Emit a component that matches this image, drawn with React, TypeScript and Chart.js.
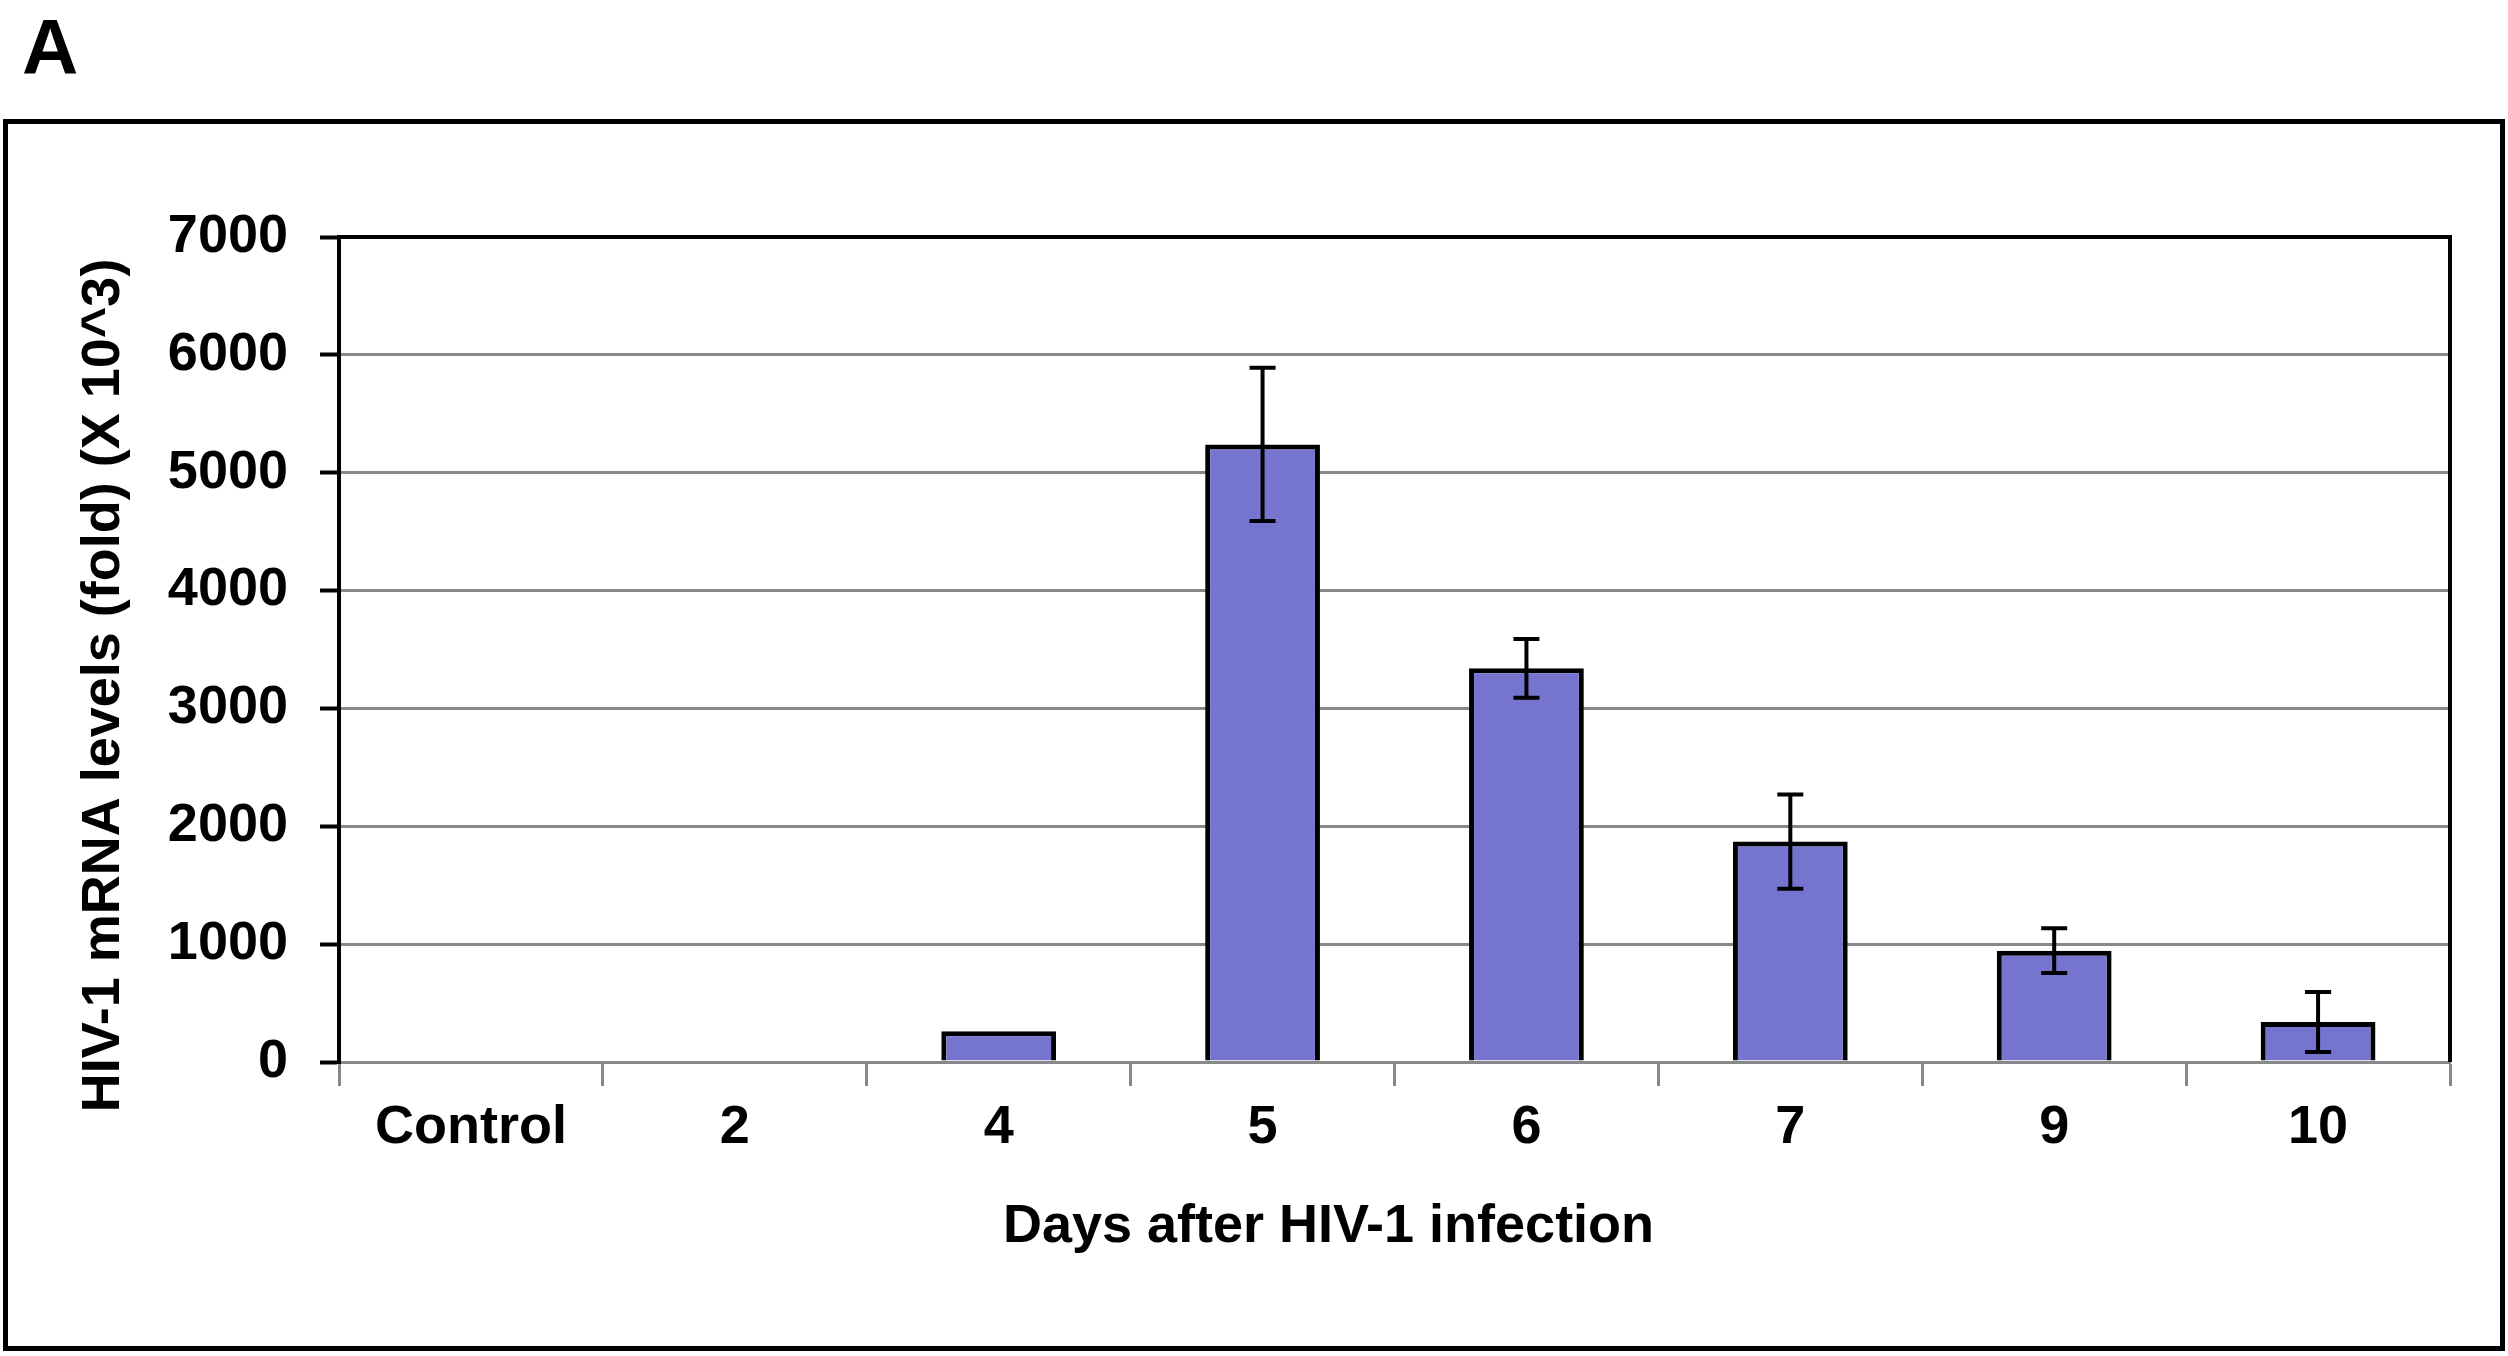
import React, { useEffect, useRef } from 'react';
import { Chart, registerables } from 'chart.js';

Chart.register(...registerables);

const days = ['Control', '2', '4', '5', '6', '7', '9', '10'];
const mrnaFold = [0, 0, 260, 5240, 3340, 1870, 945, 340];
const mrnaError = [0, 0, 0, 650, 250, 400, 190, 255];
const yTickValues = [0, 1000, 2000, 3000, 4000, 5000, 6000, 7000];
const xTitle = 'Days after HIV-1 infection';
const yTitle = 'HIV-1 mRNA levels (fold) (X 10^3)';
const panelLabel = 'A';

const FONT = '"Liberation Sans", Arial, sans-serif';

// whiskers on top of the bars, +/- error read from mrnaError
const errorBars = {
  id: 'errorBars',
  afterDatasetsDraw(chart: any) {
    const { ctx } = chart;
    const y = chart.scales.y;
    const bars = chart.getDatasetMeta(0).data;
    const cap = 13;
    ctx.save();
    ctx.strokeStyle = '#000';
    ctx.lineWidth = 4;
    bars.forEach((bar: any, i: number) => {
      const err = mrnaError[i];
      if (!err) return;
      const hi = y.getPixelForValue(mrnaFold[i] + err);
      const lo = y.getPixelForValue(mrnaFold[i] - err);
      ctx.beginPath();
      ctx.moveTo(bar.x, hi);
      ctx.lineTo(bar.x, lo);
      ctx.moveTo(bar.x - cap, hi);
      ctx.lineTo(bar.x + cap, hi);
      ctx.moveTo(bar.x - cap, lo);
      ctx.lineTo(bar.x + cap, lo);
      ctx.stroke();
    });
    ctx.restore();
  },
};

// top/right edge of the plot box + the two axis titles
const frameAndTitles = {
  id: 'frameAndTitles',
  afterDraw(chart: any) {
    const { ctx, chartArea: a } = chart;
    ctx.save();
    ctx.strokeStyle = '#000';
    ctx.lineWidth = 4;
    ctx.beginPath();
    ctx.moveTo(a.left, a.top);
    ctx.lineTo(a.right, a.top);
    ctx.lineTo(a.right, a.bottom);
    ctx.stroke();

    ctx.fillStyle = '#000';
    ctx.font = `bold 54px ${FONT}`;
    ctx.textAlign = 'center';
    ctx.textBaseline = 'middle';
    const cx = (a.left + a.right) / 2;
    const cy = (a.top + a.bottom) / 2;
    ctx.fillText(xTitle, cx - 66, a.bottom + 165);
    ctx.translate(104, cy + 36);
    ctx.rotate(-Math.PI / 2);
    ctx.fillText(yTitle, 0, 0);
    ctx.restore();
  },
};

const HivChart: React.FC = () => {
  const canvasRef = useRef<HTMLCanvasElement>(null);
  const chartRef = useRef<Chart | null>(null);

  useEffect(() => {
    document.body.style.margin = '0';
    if (!canvasRef.current) return;
    if (chartRef.current) chartRef.current.destroy();

    const tickFont = { family: FONT, size: 54, weight: 'bold' as const };

    chartRef.current = new Chart(canvasRef.current, {
      type: 'bar',
      data: {
        labels: days,
        datasets: [
          {
            data: mrnaFold,
            backgroundColor: '#7575CF',
            borderColor: '#000',
            borderWidth: 5,
            borderSkipped: 'bottom',
            categoryPercentage: 1,
            barPercentage: 0.435,
          },
        ],
      },
      options: {
        responsive: false,
        animation: false,
        devicePixelRatio: 1,
        layout: { padding: { top: 237, right: 58, bottom: 0, left: 0 } },
        plugins: {
          legend: { display: false },
          tooltip: { enabled: false },
        },
        scales: {
          x: {
            grid: {
              drawOnChartArea: false,
              drawTicks: true,
              tickLength: 24,
              tickColor: '#888',
              tickWidth: 3,
              offset: true,
            },
            border: { color: '#888', width: 3 },
            ticks: {
              color: '#000',
              font: tickFont,
              padding: 10,
              maxRotation: 0,
              autoSkip: false,
            },
            afterFit: (s: any) => {
              s.height = 294;
            },
          },
          y: {
            min: 0,
            max: 7000,
            afterBuildTicks: (s: any) => {
              s.ticks = yTickValues.map((v) => ({ value: v }));
            },
            grid: {
              color: '#888',
              lineWidth: 3,
              tickLength: 19,
              tickColor: '#000',
              tickWidth: 4,
            },
            border: { color: '#000', width: 4 },
            ticks: {
              color: '#000',
              font: tickFont,
              padding: 32,
              callback: (v: any) => String(v),
            },
            afterFit: (s: any) => {
              s.width = 339;
            },
          },
        },
      },
      plugins: [errorBars, frameAndTitles],
    });

    return () => {
      if (chartRef.current) {
        chartRef.current.destroy();
        chartRef.current = null;
      }
    };
  }, []);

  return (
    <div style={{ position: 'relative', width: 2508, height: 1356, background: '#fff', overflow: 'hidden' }}>
      <div
        style={{
          position: 'absolute',
          left: 22,
          top: 8,
          font: `bold 78px ${FONT}`,
          lineHeight: '78px',
          color: '#000',
        }}
      >
        {panelLabel}
      </div>
      <div
        style={{
          position: 'absolute',
          left: 3,
          top: 119,
          width: 2502,
          height: 1232,
          border: '5px solid #000',
          boxSizing: 'border-box',
        }}
      />
      <canvas
        ref={canvasRef}
        width={2508}
        height={1356}
        style={{ position: 'absolute', left: 0, top: 0 }}
      />
    </div>
  );
};

export default function App() {
  return <HivChart />;
}
